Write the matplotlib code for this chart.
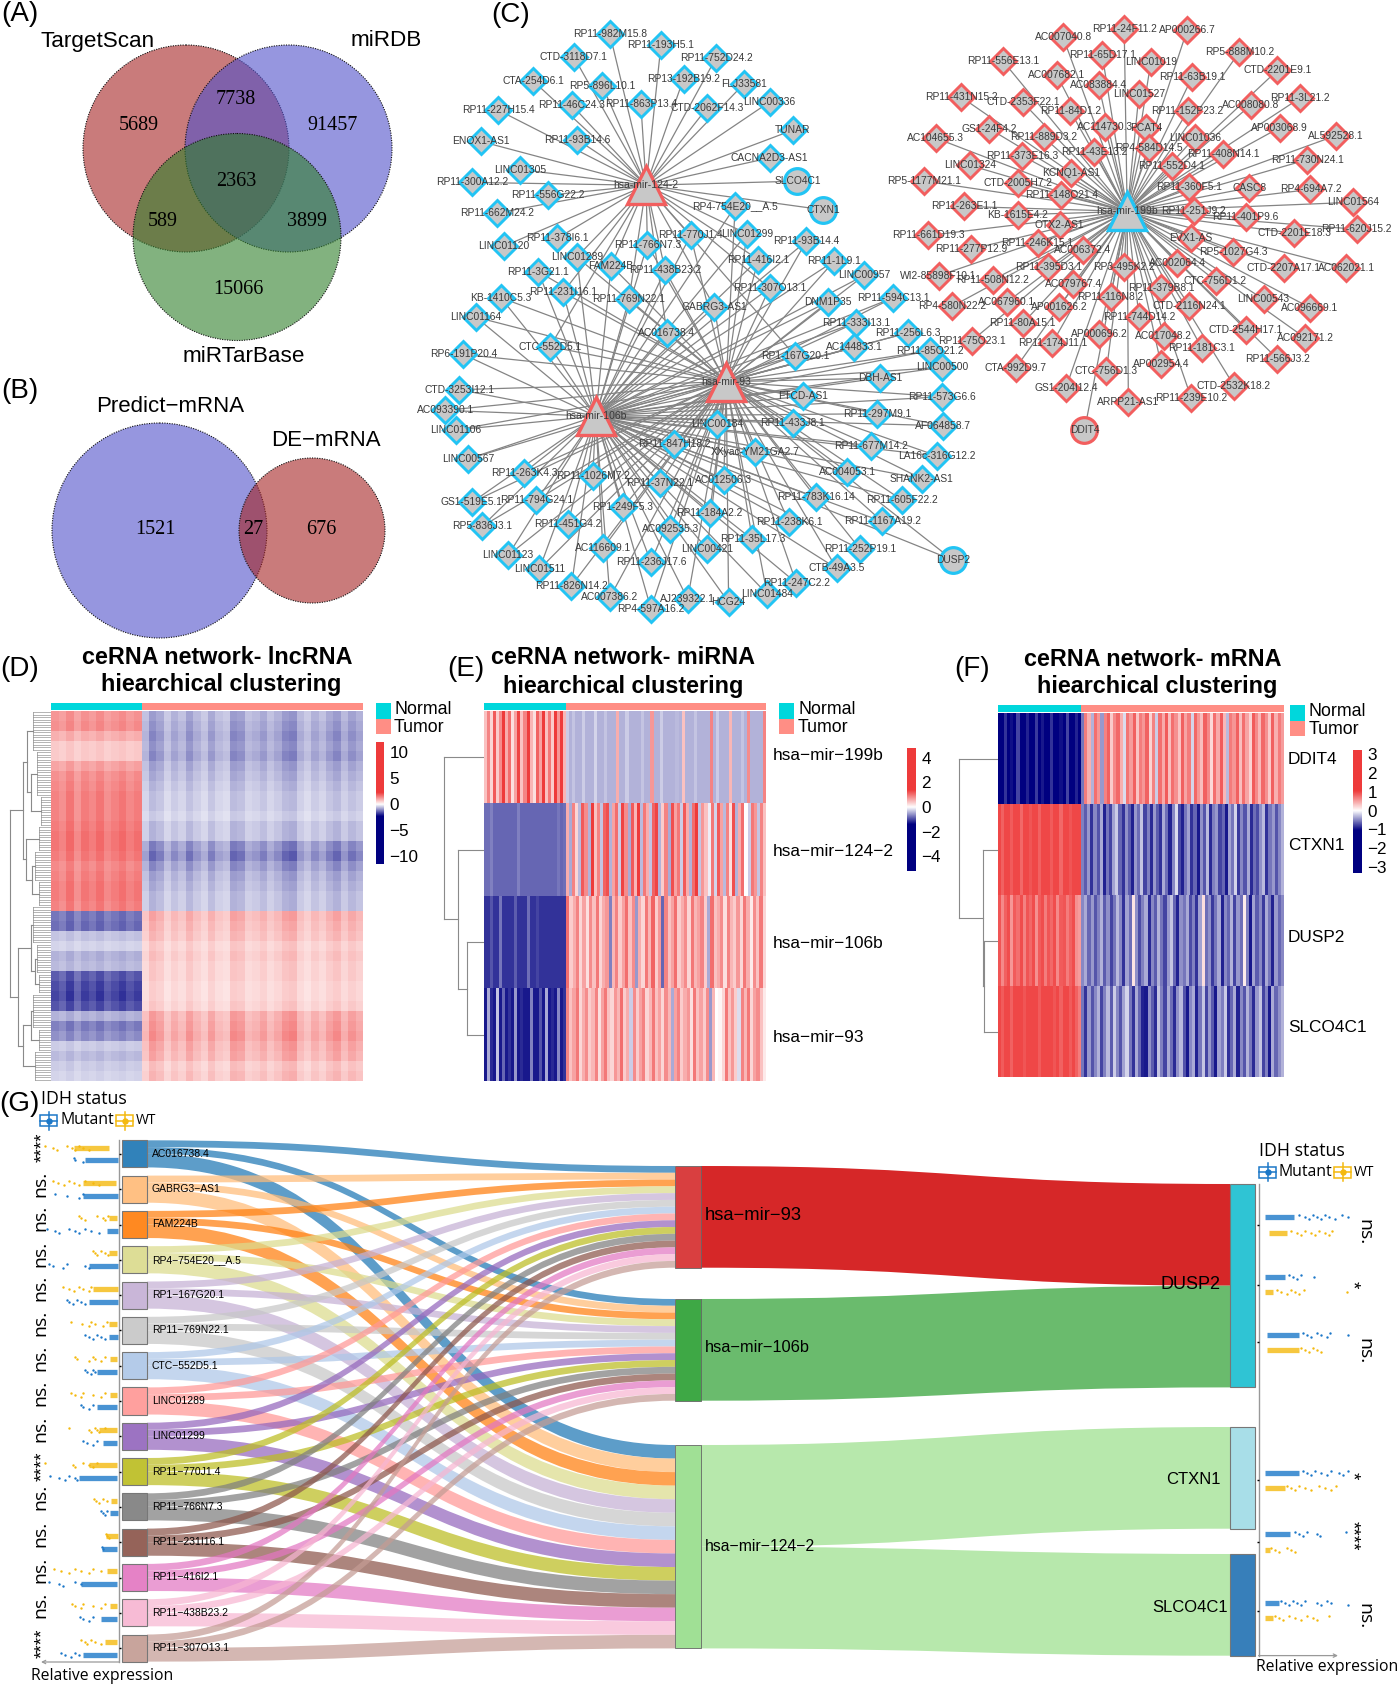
import matplotlib
matplotlib.use("Agg")
import numpy as np
import matplotlib.pyplot as plt
from matplotlib.patches import Ellipse, Rectangle, PathPatch
from matplotlib.path import Path
from matplotlib.colors import LinearSegmentedColormap, Normalize, TwoSlopeNorm, to_rgba

W, H = 1400, 1688
SANS = "Liberation Sans"
SERIF = "Liberation Serif"
HUM = "Open Sans"
plt.rcParams["font.family"] = [SANS, "DejaVu Sans"]

# ---------- Venn values ----------
venn_a_labels = ["5689", "7738", "91457", "2363", "589", "3899", "15066"]
venn_b_labels = ["1521", "27", "676"]
venn_a_sets = ["TargetScan", "miRDB", "miRTarBase"]
venn_b_sets = ["Predict\u2212mRNA", "DE\u2212mRNA"]

# ---------- Network: names and layout ----------
hub_names = ["hsa-mir-124-2", "hsa-mir-93", "hsa-mir-106b", "hsa-mir-199b"]
hub_x = [297, 432, 212, 1108]
hub_y = [447, 921, 1004, 510]

upper_names = ["RP11-982M15.8","RP11-193H5.1","CTD-3118D7.1","RP11-752D24.2","CTA-254D6.1","RP5-896L10.1","RP13-192B19.2","FLJ33581","RP11-46C24.3","RP11-863P13.4","CTD-2062F14.3","LINC00336","RP11-227H15.4","TUNAR","RP11-93B14.6","ENOX1-AS1","CACNA2D3-AS1","LINC01305","RP11-300A12.2","RP11-556G22.2","RP11-662M24.2","LINC01120","RP11-378I6.1","SLCO4C1","CTXN1"]
upper_x = [236,322,175,415,107,223,360,462,172,288,400,505,48,544,181,18,505,85,3,131,45,57,147,552,595]
upper_y = [83,108,137,139,196,207,190,202,254,250,260,246,266,314,337,341,381,409,440,471,514,594,575,437,506]

shared_names = ["RP4-754E20__A.5","RP11-770J1.4","LINC01299","RP11-766N7.3","LINC01289","FAM224B","RP11-438B23.2","RP11-416I2.1","RP11-307O13.1","RP11-231I16.1","RP11-769N22.1","GABRG3-AS1","AC016738.4","CTC-552D5.1","RP1-167G20.1"]
shared_x = [447,372,467,299,180,238,329,486,505,157,268,412,332,135,548]
shared_y = [498,568,564,590,620,641,652,626,695,705,722,740,804,836,858]

lower_names = ["RP11-3G21.1","RP11-93B14.4","RP11-1L9.1","LINC00957","KB-1410C5.3","DNM1P35","RP11-594C13.1","RP11-333I13.1","LINC01164","RP11-256L6.3","AC144833.1","RP11-85O21.2","RP6-191P20.4","LINC00500","DBH-AS1","CTD-3253I12.1","AC093390.1","LINC01106","LINC00567","FTCD-AS1","RP11-573G6.6","RP11-297M9.1","AF064858.7","LINC00184","RP11-433J8.1","RP11-847H18.2","RP11-677M14.2","LA16c-316G12.2","XXyac-YM21GA2.7","AC004053.1","SHANK2-AS1","RP11-263K4.3","RP11-1026M7.2","RP11-37N22.1","AC012506.3","RP11-783K16.14","RP11-605F22.2","GS1-519E5.1","RP11-794G24.1","RP1-249F5.3","RP5-836J3.1","RP11-451G4.2","RP11-184A2.2","RP11-238K6.1","RP11-1167A19.2","AC092535.3","RP11-35L17.3","LINC01123","AC116609.1","LINC00421","RP11-236J17.6","RP11-252P19.1","CTB-49A3.5","LINC01511","RP11-826N14.2","RP11-247C2.2","LINC01484","AC007386.2","AJ239322.1","HCG24","RP4-597A16.2","DUSP2"]
lower_x = [115,567,614,665,52,604,714,651,10,738,648,775,-11,796,692,-18,-42,-24,-3,562,796,686,798,416,544,344,676,788,481,636,762,91,207,320,428,583,728,3,112,258,20,165,404,538,695,338,476,64,224,400,305,658,618,117,171,550,501,236,367,436,305,814]
lower_y = [655,582,630,664,718,728,718,778,765,803,838,846,855,886,912,940,990,1037,1107,956,957,998,1027,1024,1021,1071,1075,1100,1090,1139,1155,1140,1148,1166,1157,1200,1206,1212,1207,1224,1270,1263,1238,1260,1258,1275,1301,1340,1323,1325,1356,1325,1371,1373,1413,1406,1433,1441,1445,1453,1468,1351]

red_names = ["AC007040.8","RP11-24F11.2","AP000266.7","RP5-888M10.2","RP11-556E13.1","RP11-65D17.1","LINC01019","CTD-2201E9.1","AC007682.1","RP11-63B19.1","AC083884.4","LINC01527","RP11-431N15.2","CTD-2353F22.1","RP11-84D1.2","RP11-152P23.2","AC008080.8","RP11-3L21.2","GS1-24F4.2","AC114730.3","PCAT4","AP003068.9","RP11-889D3.2","LINC01036","AL592528.1","AC104655.3","RP4-584D14.5","RP11-43E13.2","RP11-408N14.1","RP11-373E16.3","LINC01324","RP11-552D4.1","RP11-730N24.1","KCNQ1-AS1","RP5-1177M21.1","CTD-2005H7.2","RP11-360F5.1","CASC8","RP4-694A7.2","RP11-148O21.4","LINC01564","RP11-263E1.1","RP11-251J9.2","KB-1615E4.2","RP11-401P9.6","OTX2-AS1","CTD-2201E18.3","RP11-620J15.2","RP11-661D19.3","EVX1-AS","RP11-246K15.1","RP11-277P12.9","AC006372.4","RP5-1027G4.3","AC002064.4","RP11-395D3.1","CTD-2207A17.1","AC062021.1","RP3-495K2.2","WI2-85898F10.1","RP11-508N12.2","AC079767.4","CTC-756D1.2","RP11-379B8.1","LINC00543","RP11-116N8.2","CTD-2116N24.1","AC096669.1","AC067960.1","AP001626.2","RP4-580N22.2","RP11-744D14.2","RP11-80A15.1","CTD-2544H17.1","AC092171.2","RP11-75O23.1","RP11-174J11.1","AP000696.2","AC017048.2","RP11-181C3.1","RP11-566J3.2","CTA-992D9.7","CTC-756D1.3","AP002954.4","GS1-204I12.4","CTD-2532K18.2","ARPP21-AS1","RP11-239E10.2","DDIT4"]
red_x = [1000,1103,1209,1297,899,1066,1148,1361,989,1218,1060,1128,828,932,1012,1210,1316,1400,875,1070,1140,1365,967,1222,1460,785,1145,1052,1270,931,843,1183,1412,1014,766,924,1212,1314,1417,997,1489,833,1220,924,1308,994,1390,1495,773,1216,957,845,1033,1287,1192,975,1372,1477,1103,790,881,1017,1257,1165,1338,1080,1213,1416,905,993,813,1128,932,1308,1408,846,982,1061,1170,1234,1361,920,1073,1165,1005,1288,1110,1216,1036]
red_y = [90,69,73,126,148,133,149,170,180,185,206,226,234,247,268,268,254,236,310,306,308,308,331,332,327,333,357,366,371,376,399,401,385,417,437,442,452,453,457,471,488,498,508,518,524,543,563,553,568,574,587,601,602,609,634,645,647,647,645,665,675,685,677,695,722,717,738,742,729,741,739,765,780,795,815,822,827,805,810,840,865,888,894,878,935,930,970,960,1038]
circle_nodes = ["SLCO4C1", "CTXN1", "DUSP2", "DDIT4"]

# ---------- Heatmap D: band levels by row, stripe strength by column ----------
d_row_normal = [1.6,1.7,1.2,.8,.8,1.4,1.7,1.8,1.9,1.9,1.9,2.0,2.1,2.1,2.0,1.8,1.9,2.0,2.0,1.9,-1.6,-1.7,-.7,-.5,-.9,-.8,-1.9,-2.1,-2.2,-2.0,-.9,-1.5,-1.3,-.6,-.8,-.6,-.5]
d_row_tumor = [-.9,-1.0,-1.1,-1.0,-1.1,-.9,-.8,-.7,-.6,-.6,-.5,-.7,-.7,-1.2,-1.4,-1.1,-.9,-.8,-.7,-.7,1.1,1.0,.9,.7,.8,.7,.7,.6,.6,.7,1.2,1.3,1.4,1.2,1.1,.8,.9]
d_col_normal = [1.0,.9,1.1,.85,1.05,.95,1.1,.9,1.0,1.1,.95,1.05]
d_col_tumor = [.8,1.3,1.1,.7,1.0,.8,1.2,.9,.7,1.1,.8,.7,1.3,1.2,.8,.9,1.1,.8,1.0,1.3,1.4,.9,.7,1.0,.8,1.1,1.3,.9,1.2,1.0]

# ---------- Heatmap E: stripes read per row ----------
e_199b = [.6,1.2,.4,1.6,.5,1.1,2.0,.8,1.4,.3,.9,1.8,.6,1.2,2.1,.7,.3,1.5,.9,2.2,.6,1.3,.5,1.9,1.0,2.3,.7,
 -.6,-.9,-.7,-.9,-.9,-.6,-.9,-.9,-.9,-.5,-.9,-.9,-.7,-.9,-.9,-.9,.8,-.9,-.9,-.6,-.9,-.9,-.9,-.9,-.7,-.9,-.9,1.0,-.9,-.9,-.6,-.9,-.9,-.9,-.9,-.8,-.9,.6,-.9,-.9,-.9,-.7,-.9,-.9,-.9,-.9,1.2,-.9,-.6,-.9,-.9,-.9,.7,-.9,-.9,-.9,-.7,-.9,1.1,-.9,-.9,-.9,-.9,1.2]
e_124 = [-1.7,-1.7,-1.5,-1.8,-1.8,-1.8,-1.8,-1.8,-1.8,-1.8,-1.8,-1.5,-1.8,-1.8,-1.8,-1.8,-1.8,-1.8,-1.8,-1.8,-1.8,-1.8,-1.8,-1.8,-1.6,-1.8,-1.7,
 .8,-1.0,1.2,.4,-.8,1.6,1.1,-.9,1.9,.6,1.2,-.7,1.5,1.7,-.9,.9,1.4,-.6,1.8,1.1,-1.0,1.6,.7,1.9,-.8,1.3,.8,-.7,1.5,1.8,-.9,.5,1.2,-1.0,1.7,.9,1.3,-.6,1.6,.8,-.9,1.4,1.9,-.7,1.0,.6,-.2,1.3,-.5,1.6,.9,-.8,1.2,.3,1.7,-.9,.8,1.4,0,-.6,1.3,1.0,-.7,1.2,.6]
e_106b = [-2.4,-2.4,-2.0,-2.4,-2.4,-1.6,-2.4,-2.4,-2.4,-2.4,-1.9,-2.4,-2.4,-2.4,-1.7,-2.4,-2.4,-2.2,-2.4,-2.4,-2.4,-2.4,-2.4,-2.4,-2.4,-2.4,-2.4,
 1.4,.5,.8,1.2,.4,.9,.3,1.1,.6,1.3,.4,.8,1.0,-1.5,.7,1.2,.5,.9,1.4,.6,1.1,-1.2,.8,.4,1.3,.7,1.5,.5,1.0,-1.8,1.2,.6,.9,1.4,.5,.8,1.1,.4,1.3,.7,.9,1.2,.5,-1.0,1.4,.6,.8,1.1,.3,1.2,.7,.5,1.0,.4,1.3,.8,.2,1.1,.6,1.3,.4]
e_93 = [-2.7,-1.0,-2.5,-2.7,-.7,-2.7,-1.8,-2.7,-2.4,-2.7,-1.2,-2.7,-2.5,-2.7,-2.7,-1.5,-2.7,-2.7,-2.0,-2.7,-1.0,-2.7,-2.5,-2.7,-1.4,-2.7,-2.4,
 1.2,.6,.9,1.3,.4,.8,1.1,.5,.7,1.2,.3,.9,1.3,.6,.4,1.0,.7,1.4,.5,.8,-.6,1.1,.5,.9,1.2,.4,.7,1.3,.6,.9,.4,1.1,.7,-1.0,.9,1.2,.5,.8,1.0,.3,1.3,.6,.9,.5,1.1,-1.2,.7,0,.1,.4,1.3,.6,1.0,.5,-.4,1.2,.7,1.3,.4,.9,1.1,.6,.2]

# ---------- Heatmap F: stripes read per row ----------
f_ddit4 = [-3,-3,-2.4,-3,-2.8,-3,-2.2,-3,-3,-2.6,-3,-3,-2.3,-3,-2.7,-3,-3,-2.4,-3,-3,-2.8,-3,-2.2,-3,-3,-2.6,-3,
 -1.6,2.0,1.2,-.9,2.2,1.6,-1.2,1.9,2.4,.8,1.8,2.3,1.2,-.4,2.1,1.5,2.4,.9,2.0,1.6,2.4,.7,1.9,-.6,2.2,1.3,2.5,1.0,2.2,1.7,.9,2.4,1.4,2.0,-.5,2.3,1.6,1.0,2.4,1.8,.6,2.2,1.3,2.5,1.1,-.8,2.0,1.6,2.4,1.0,2.2,1.4,.7,2.5,1.8,1.1,2.3,1.7,.8,2.4,1.2,2.0,1.5]
f_ctxn1 = [2.8,2.4,2.8,2.8,2.5,2.8,2.8,2.3,2.8,2.8,2.6,2.8,2.8,2.4,2.8,2.8,2.8,2.5,2.8,2.8,2.3,2.8,2.8,2.6,2.8,2.8,2.8,
 -1.5,-1.9,-1.2,-2.4,-1.4,-2.0,-1.0,-2.6,-1.6,-2.2,-1.1,-.6,-1.8,-2.4,-1.3,-1.9,-2.6,-1.2,-1.7,-.7,-2.2,-1.5,-2.5,-1.2,-1.9,-2.4,-1.0,-1.7,-2.6,-1.4,-.4,-2.1,-2.6,-1.6,-1.1,-2.4,-1.8,-2.7,-1.3,-2.0,-.8,-2.5,-1.5,-1.2,-2.2,-1.8,-2.7,-1.1,-1.6,-.5,-2.3,-1.4,-2.0,-1.0,-2.5,-1.7,-2.1,-1.3,-.8,-2.4,-1.6,-1.2,-2.0,-1.4,-.9]
f_dusp2 = [2.6,1.8,2.4,2.7,1.6,2.5,2.2,2.7,1.9,2.6,2.3,2.7,1.7,2.5,2.7,2.0,2.6,2.3,2.7,1.8,2.5,2.6,2.0,2.4,2.7,1.7,1.5,
 -1.4,-1.0,-1.8,-1.2,-2.0,-1.5,-.9,-1.9,-1.3,-2.2,-1.6,-.8,-1.4,-2.4,-1.1,-1.7,.4,-1.3,-2.1,-1.5,-1.0,-2.5,-1.4,-1.9,-.9,-1.6,-2.2,-1.2,-.7,-1.8,-2.6,-1.3,-1.6,-1.0,-2.1,-1.5,-2.4,-1.1,.5,-1.7,-1.3,-2.3,-1.6,-1.0,-2.6,-1.4,-1.8,-.9,-2.2,-1.2,-1.7,.3,-1.5,-2.7,-1.1,-1.9,-1.4,-2.3,-1.0,-1.6,-2.6,-1.2,-1.8,-1.4]
f_slco = [2.8,2.5,2.8,2.8,2.4,2.8,2.8,2.8,2.6,2.8,2.8,2.8,2.8,2.5,2.8,2.8,2.8,2.8,2.6,2.8,2.4,2.8,2.8,2.5,2.8,2.4,2.0,
 -1.6,-2.4,-1.2,-2.0,-1.4,-.9,-2.2,-1.5,-.8,-1.9,-.6,-1.4,-2.0,-1.1,-.5,-1.6,-2.4,-1.0,-1.8,-2.6,-2.7,-1.3,-1.9,-2.5,-.7,-1.5,-2.2,-1.0,-1.7,-2.5,-1.3,-.8,-2.0,-2.7,-1.4,-1.0,-2.6,-1.6,-.7,-2.2,-1.2,-1.9,-2.7,-1.1,-1.5,-.6,-2.4,-1.8,-1.0,-2.6,-1.4,-2.0,-.9,-1.6,-2.5,-1.2,-.7,-2.2,-1.5,-2.7,-1.0,-1.8,-1.3,-.9]

e_row_labels = ["hsa\u2212mir\u2212199b", "hsa\u2212mir\u2212124\u22122", "hsa\u2212mir\u2212106b", "hsa\u2212mir\u221293"]
f_row_labels = ["DDIT4", "CTXN1", "DUSP2", "SLCO4C1"]

# ---------- Sankey ----------
lnc_names = ["AC016738.4","GABRG3\u2212AS1","FAM224B","RP4\u2212754E20__A.5","RP1\u2212167G20.1","RP11\u2212769N22.1","CTC\u2212552D5.1","LINC01289","LINC01299","RP11\u2212770J1.4","RP11\u2212766N7.3","RP11\u2212231I16.1","RP11\u2212416I2.1","RP11\u2212438B23.2","RP11\u2212307O13.1"]
lnc_to_93 = [1,1,1,1,1,1,1,1,1,1,1,1,1,1,1]
lnc_to_106 = [1,1,1,1,1,1,1,1,1,1,1,1,1,1,1]
lnc_to_124 = [2,2,2,2,2,2,2,2,2,2,2,2,2,2,2]
lnc_colors = ["#1f77b4","#ffbb78","#ff7f0e","#dbdb8d","#c5b0d5","#c7c7c7","#aec7e8","#ff9896","#9467bd","#bcbd22","#7f7f7f","#8c564b","#e377c2","#f7b6d2","#c49c94"]
mir_labels = ["hsa\u2212mir\u221293","hsa\u2212mir\u2212106b","hsa\u2212mir\u2212124\u22122"]
mir_flow_colors = ["#D62728","#6ABB6D","#B7E8AC"]
mir_node_colors = ["#D93F40","#3EA845","#A0E095"]
mrna_labels = ["DUSP2","CTXN1","SLCO4C1"]
mrna_colors = ["#2FC4D4","#A8DEE8","#377FBA"]
mir_to_dusp2 = [15, 15]
mir124_to_ctxn1 = 15
mir124_to_slco = 15

# ---------- Strip plots: relative expression ----------
left_sig = ["****","ns.","ns.","ns.","ns.","ns.","ns.","ns.","ns.","****","ns.","ns.","ns.","ns.","****"]
left_wt_dense = [(10,45),(3,36),(2,10),(2,10),(1,26),(2,10),(2,9),(2,9),(2,20),(2,30),(2,8),(1,13),(2,12),(2,9),(2,14)]
left_mut_dense = [(1,34),(1,36),(1,12),(1,30),(1,30),(1,10),(2,22),(2,22),(2,16),(2,40),(1,9),(2,17),(2,38),(2,18),(2,36)]
left_wt_pts = [[74,66,62,52,47,44,40,36,30],[66,61,55,50,45,40,34,26,20],[40,38,34,22,16,14,11],[26,24,22,18,14,11],[56,50,45,40,36,30,28],[48,37,30,28,24,16,12],[44,42,30,26,24,18,14],[48,44,38,36,26,18,14],[50,30,28,24,22,20,14],[74,46,44,36,30,26,22],[25,23,20,16,12],[13,12,10],[65,58,50,44,38,30,26,18],[47,44,38,36,26,18,14],[38,34,32,28,24,18]]
left_mut_pts = [[45,44,36],[64,52,40,36],[72,64,60,50,44,40,34,28,20],[70,66,56,52,34,30],[52,50,46,42,38,34],[34,30,26,22,18,14],[34,32,28,26,24],[38,36,30,26],[36,32,26,22],[69,60,54,50,44,42],[18,16,14,12],[17,16],[70,60,56,44,38],[39,36,30,26],[58,54,48,44,40]]
right_sig = ["ns.","*","ns.","*","****","ns."]
right_mut_dense = [(6,35),(6,26),(8,40),(6,40),(6,31),(6,20)]
right_wt_dense = [(10,28),(6,14),(8,40),(6,26),(6,11),(6,14)]
right_mut_pts = [[40,46,50,54,58,62,66,70,76,83,89],[30,34,38,42,55],[44,48,52,58,62,68,71,89],[44,48,52,56,62,68,72,80,84,89],[36,40,44,48,58,61,87],[22,26,30,34,38,42,46,58,62,68,72,89]]
right_wt_pts = [[32,38,42,46,52,56,60,66,70,73],[18,22,28,32,36,40,45,88],[42,46,50,54,58,62],[28,32,36,40,46,52,60,66,72,77],[12,16,20,28,32,36],[16,20,24,30,36,42,48,54,58,70]]

# ---------- helpers ----------
fig = plt.figure(figsize=(W/100, H/100), dpi=100, facecolor="white")

def pxax(x0, y0, x1, y1):
    a = fig.add_axes([x0/W, 1-y1/H, (x1-x0)/W, (y1-y0)/H])
    a.patch.set_alpha(0)
    return a

ov = pxax(0, 0, W, H)
ov.set_xlim(0, W); ov.set_ylim(H, 0); ov.axis("off")

def label(x, y, s, size=15, ha="center", va="center", family=SANS, **kw):
    ov.text(x, y, s, fontsize=size, ha=ha, va=va, family=[family, "DejaVu Sans"], **kw)

for s, x, y in [("(A)",20,14),("(B)",20,391),("(C)",511,15),("(D)",20,669),("(E)",466,669),("(F)",972,669),("(G)",19,1104)]:
    label(x, y, s, size=20)

# ---------- Venns ----------
def venn(cx, cy, rx, ry, color):
    ov.add_patch(Ellipse((cx, cy), 2*rx, 2*ry, facecolor=to_rgba(color, .6), edgecolor="none"))
    ov.add_patch(Ellipse((cx, cy), 2*rx, 2*ry, facecolor="none", edgecolor="#111111", lw=.8, ls=(0,(1,1.2))))

RED, BLUE, GREEN = (165/255,35/255,35/255), (80/255,80/255,203/255), (47/255,127/255,42/255)
venn(186, 148.5, 103, 103.5, RED)
venn(288.5, 148.5, 103.5, 103.5, BLUE)
venn(237, 237, 104, 103.5, GREEN)
venn(159.5, 530.5, 107.5, 107.5, BLUE)
venn(312, 530.5, 73, 72.5, RED)
for s, p in zip(venn_a_labels, [(139,126),(236,99),(333,126),(236,181),(163,222),(307,222),(238,290)]):
    label(p[0], p[1], s, size=14.5, family=SERIF)
for s, p in zip(venn_b_labels, [(155,530),(253,530),(321,530)]):
    label(p[0], p[1], s, size=14.5, family=SERIF)
for s, p in zip(venn_a_sets, [(98,41),(386,41),(244,357)]):
    label(p[0], p[1], s, size=16.2)
for s, p in zip(venn_b_sets, [(170,407),(326,440)]):
    label(p[0], p[1], s, size=16)

# ---------- Network ----------
net = pxax(420, 0, 1400, 650)
sx = 1568/930
net.set_xlim((420-470)*sx, (1400-470)*sx); net.set_ylim(1568, 0); net.axis("off")
EDGE = "#848484"
def edges(xs, ys, hubs, zo=1):
    for h in hubs:
        for x, y in zip(xs, ys):
            net.plot([hub_x[h], x], [hub_y[h], y], color=EDGE, lw=.9, zorder=zo, solid_capstyle="round")

def nodes(names, xs, ys, col):
    for n, x, y in zip(names, xs, ys):
        if n in circle_nodes:
            net.plot(x, y, "o", ms=18.5, mfc="#C8C8C8", mec=col, mew=2.3, zorder=3)
        else:
            net.plot(x, y, "D", ms=13, mfc="#C8C8C8", mec=col, mew=2.1, zorder=3)
    for n, x, y in zip(names, xs, ys):
        net.text(x, y, n, fontsize=7.4, color="#3a3a3a", ha="center", va="center", zorder=5, clip_on=False)

CY, RD = "#22C4F4", "#F25E5E"
edges(upper_x, upper_y, [0]); edges(shared_x, shared_y, [0,1,2]); edges(lower_x, lower_y, [1,2]); edges(red_x, red_y, [3])
nodes(upper_names, upper_x, upper_y, CY); nodes(shared_names, shared_x, shared_y, CY)
nodes(lower_names, lower_x, lower_y, CY); nodes(red_names, red_x, red_y, RD)
for i, n in enumerate(hub_names):
    c = CY if i == 3 else RD
    net.plot(hub_x[i], hub_y[i], "^", ms=28, mfc="#C8C8C8", mec=c, mew=2.4, zorder=4)
    net.text(hub_x[i], hub_y[i], n, fontsize=7.5, color="#3a3a3a", ha="center", va="center", zorder=6)

# ---------- Heatmaps ----------
cmap = LinearSegmentedColormap.from_list("nwr", ["#000080", "#FFFFFF", "#EE3B3B"])
znorm = Normalize(-3, 3)
e_norm = TwoSlopeNorm(vmin=-3, vcenter=0, vmax=1.9)

def heat(box, rows, nnorm, split, norm=znorm):
    """Each row is drawn with its own columns: nnorm normal samples, the rest tumor."""
    x0, y0, x1, y1 = box
    a = pxax(x0, y0, x1, y1)
    ye = np.linspace(y0, y1, len(rows)+1)
    for r, row in enumerate(rows):
        nt = len(row) - nnorm
        xe = np.r_[np.linspace(x0, split, nnorm+1), np.linspace(split, x1, nt+1)[1:]]
        a.pcolormesh(xe, ye[r:r+2], np.asarray(row, float)[None, :], cmap=cmap, norm=norm,
                     shading="flat", edgecolors="none", rasterized=True)
    a.set_xlim(x0, x1); a.set_ylim(y1, y0); a.axis("off")
    return a

def annot(y0, y1, x0, xs, x1):
    ov.add_patch(Rectangle((x0, y0), xs-x0, y1-y0, color="#00D7DC", lw=0))
    ov.add_patch(Rectangle((xs, y0), x1-xs, y1-y0, color="#FF8E85", lw=0))

def legend(x0, x1, y0, ym, y1, tx):
    ov.add_patch(Rectangle((x0, y0), x1-x0, ym-y0, color="#00D7DC", lw=0))
    ov.add_patch(Rectangle((x0, ym), x1-x0, y1-ym, color="#FF8E85", lw=0))
    label(tx, y0+6.5, "Normal", size=12.8, ha="left")
    label(tx, ym+9, "Tumor", size=12.8, ha="left")

def colorbar(x0, y0, x1, y1, vmin, vmax, sat, ticks, lab):
    a = pxax(x0, y0, x1, y1)
    grad = np.linspace(vmax, vmin, 256)[:, None]
    a.imshow(grad, aspect="auto", cmap=cmap, norm=Normalize(-sat, sat), extent=[0, 1, vmin, vmax])
    a.set_xticks([]); a.yaxis.tick_right()
    a.set_yticks(ticks); a.set_yticklabels(lab, fontsize=12.3)
    a.tick_params(axis="y", length=0, pad=4)
    for s in a.spines.values():
        s.set_visible(False)

def tree_draw(node, ybase, xbase, ctr):
    """Draws a tree given as (height, child, child, ...) or ('c', leaves, height)."""
    if node[0] == "c":
        n, h = node[1], node[2]
        ys = [ybase + (ctr[0] + i + .5)*ctr[1] for i in range(n)]
        ctr[0] += n
        ov.plot([xbase-h, xbase-h], [ys[0], ys[-1]], color="#8a8a8a", lw=.5)
        for y in ys:
            ov.plot([xbase-h, xbase], [y, y], color="#8a8a8a", lw=.45)
        return xbase-h, (ys[0]+ys[-1])/2
    h = node[0]
    kids = [tree_draw(k, ybase, xbase, ctr) for k in node[1:]]
    x = xbase-h
    ov.plot([x, x], [kids[0][1], kids[-1][1]], color="#8a8a8a", lw=.8)
    for kx, ky in kids:
        ov.plot([x, kx], [ky, ky], color="#8a8a8a", lw=.8)
    return x, (kids[0][1]+kids[-1][1])/2

# D
d_mat = []
for rn, rt in zip(d_row_normal, d_row_tumor):
    d_mat.append([rn*c for c in d_col_normal] + [rt*c for c in d_col_tumor])
heat((51, 711, 363, 1081), d_mat, len(d_col_normal), 141.5)
annot(703, 709.5, 51, 141.5, 363)
legend(375.5, 391, 703, 719, 734, 394)
colorbar(376, 742, 384, 864, -11.5, 12, 2.3, [10,5,0,-5,-10], ["10","5","0","\u22125","\u221210"])
label(217, 657, "ceRNA network- lncRNA", size=16.8, fontweight="bold")
label(221, 685, "hiearchical clustering", size=16.8, fontweight="bold")
d_tree = (41,
  (28, (24, ("c",16,18), (20, ("c",18,14), ("c",12,10))), (25, ("c",10,12), (19, ("c",12,16), ("c",10,12)))),
  (33, (20, ("c",15,18), (16, ("c",12,14), ("c",8,12))), (28, (20, ("c",14,18), ("c",9,12)), ("c",12,16))))
tree_draw(d_tree, 711, 51, [0, 2.5])

# E
heat((484, 711, 766, 1081), [e_199b, e_124, e_106b, e_93], 27, 566, norm=e_norm)
annot(703, 709.5, 484, 566, 766)
legend(779, 794, 703, 719, 734, 798)
colorbar(907, 748, 916, 871, -5.2, 4.8, 1.4, [4,2,0,-2,-4], ["4","2","0","\u22122","\u22124"])
label(623, 657, "ceRNA network- miRNA", size=16.8, fontweight="bold")
label(623, 686, "hiearchical clustering", size=16.8, fontweight="bold")
for s, y in zip(e_row_labels, [756, 852, 943, 1037]):
    label(773, y, s, size=12.4, ha="left")
tree_draw((40, ("c",1,0), (26, ("c",1,0), (17.5, ("c",1,0), ("c",1,0)))), 711, 484, [0, 92.5])

# F
heat((998, 713, 1284, 1077), [f_ddit4, f_ctxn1, f_dusp2, f_slco], 27, 1081)
annot(705, 712, 998, 1081, 1284)
legend(1290, 1305, 705, 721, 736, 1309)
colorbar(1353, 750, 1362, 873, -3.3, 3.2, 1.05, [3,2,1,0,-1,-2,-3], ["3","2","1","0","\u22121","\u22122","\u22123"])
label(1153, 660, "ceRNA network- mRNA", size=16.8, fontweight="bold")
label(1157, 687, "hiearchical clustering", size=16.8, fontweight="bold")
for s, y in zip(f_row_labels, [759, 846, 938, 1027]):
    label(1288, y, s, size=12.4, ha="left")
tree_draw((39.5, ("c",1,0), (15, ("c",1,0), (13.6, ("c",1,0), ("c",1,0)))), 713, 998, [0, 91])

# ---------- Sankey ----------
UNIT = 6.78
def band(x0, y0a, y0b, x1, y1a, y1b, color, alpha=1.0, zo=1):
    xm = (x0+x1)/2
    verts = [(x0,y0a),(xm,y0a),(xm,y1a),(x1,y1a),(x1,y1b),(xm,y1b),(xm,y0b),(x0,y0b),(x0,y0a)]
    codes = [Path.MOVETO,Path.CURVE4,Path.CURVE4,Path.CURVE4,Path.LINETO,Path.CURVE4,Path.CURVE4,Path.CURVE4,Path.CLOSEPOLY]
    ov.add_patch(PathPatch(Path(verts, codes), facecolor=to_rgba(color, alpha), edgecolor="none", zorder=zo))

LX0, LX1, MX0, MX1, RX0, RX1 = 122, 147, 675, 701, 1230, 1255
mid_top = [1166, 1299, 1445]
mid_cur = list(mid_top)
for i in range(len(lnc_names)):
    y = 1140.3 + 35.3*i
    top = y
    for k, v in enumerate((lnc_to_93[i], lnc_to_106[i], lnc_to_124[i])):
        h = v*UNIT
        band(LX1, y, y+h, MX0, mid_cur[k], mid_cur[k]+h, lnc_colors[i], .72, zo=1)
        y += h
        mid_cur[k] += h
    ov.add_patch(Rectangle((LX0, top), LX1-LX0, y-top, facecolor=to_rgba(lnc_colors[i], .92), edgecolor="#777777", lw=.8, zorder=3))
    label(152, top+(y-top)/2, lnc_names[i], size=7.5, ha="left", zorder=6)

for k in range(3):
    h = (mid_cur[k]-mid_top[k])
    ov.add_patch(Rectangle((MX0, mid_top[k]), MX1-MX0, h, facecolor=mir_node_colors[k], edgecolor="#666666", lw=.6, zorder=3))

R_TOP = [1184, 1427, 1554]
h93 = mir_to_dusp2[0]*UNIT; h106 = mir_to_dusp2[1]*UNIT
band(MX1, mid_top[0], mid_top[0]+h93, RX0, R_TOP[0], R_TOP[0]+h93, mir_flow_colors[0])
band(MX1, mid_top[1], mid_top[1]+h106, RX0, R_TOP[0]+h93, R_TOP[0]+h93+h106, mir_flow_colors[1])
hc = mir124_to_ctxn1*UNIT; hs = mir124_to_slco*UNIT
band(MX1, mid_top[2], mid_top[2]+hc, RX0, R_TOP[1], R_TOP[1]+hc, mir_flow_colors[2])
band(MX1, mid_top[2]+hc, mid_top[2]+hc+hs, RX0, R_TOP[2], R_TOP[2]+hs, mir_flow_colors[2])
for k, h in enumerate([h93+h106, hc, hs]):
    ov.add_patch(Rectangle((RX0, R_TOP[k]), RX1-RX0, h, facecolor=mrna_colors[k], edgecolor="#777777", lw=.8, zorder=3))
for s, y, fs in zip(mir_labels, [1216, 1347, 1546.5], [13.2, 11.8, 11.3]):
    label(705, y, s, size=fs, ha="left", zorder=6)
for s, x, y, fs in zip(mrna_labels, [1220, 1221, 1228], [1284.5, 1479, 1608], [13, 12, 12]):
    label(x, y, s, size=fs, ha="right", zorder=6)

# ---------- Strip plots ----------
MUT, WTC = "#1C78C8", "#F4B90F"
def strips(box, xlim, centers, mut_d, wt_d, mut_p, wt_p, wt_first, off=6.4):
    a = pxax(*box)
    a.set_xlim(*xlim); a.set_ylim(box[3], box[1])
    for i, c in enumerate(centers):
        wy = c - off if wt_first else c + off
        my = c + off if wt_first else c - off
        for d, p, y, col in ((mut_d[i], mut_p[i], my, MUT), (wt_d[i], wt_p[i], wy, WTC)):
            a.plot(d, [y, y], color=col, lw=3.8, alpha=.8, solid_capstyle="butt", clip_on=False)
            a.scatter(p, [y + ((j % 3) - 1)*2 for j in range(len(p))], s=3, color=col, lw=0, clip_on=False)
    a.set_xticks([]); a.set_yticks(centers); a.set_yticklabels([])
    a.tick_params(axis="y", length=1.5, width=1, color="black")
    for s in a.spines.values():
        s.set_visible(False)
    return a

lc = [1140.3 + 35.3*i + 13.6 for i in range(15)]
la = strips((41, 1140, 119, 1662), (78, 0), lc, left_mut_dense, left_wt_dense, left_mut_pts, left_wt_pts, True)
la.yaxis.tick_right()
rc = [1090 + v/2.622 for v in (354, 510, 662, 1023, 1185, 1365)]
strips((1258.5, 1184, 1338, 1655.6), (0, 79.5), rc, right_mut_dense, right_wt_dense, right_mut_pts, right_wt_pts, False, off=7.6)

ov.plot([119, 119], [1140, 1662], color="#999999", lw=1)
ov.annotate("", xy=(41, 1662), xytext=(119, 1662), arrowprops=dict(arrowstyle="->", color="#999999", lw=.9, shrinkA=0, shrinkB=0, mutation_scale=6))
ov.plot([1258.5, 1258.5], [1184, 1655.6], color="#999999", lw=1)
ov.annotate("", xy=(1338, 1655.6), xytext=(1258.5, 1655.6), arrowprops=dict(arrowstyle="->", color="#999999", lw=.9, shrinkA=0, shrinkB=0, mutation_scale=6))

label(102, 1676.5, "Relative expression", size=11.3, family=HUM)
label(1327, 1667, "Relative expression", size=11.3, family=HUM)

for s, y in zip(left_sig, [1147,1184,1218,1254,1288,1323,1358,1393,1429,1466,1497,1534,1570,1605,1643]):
    if s == "ns.":
        label(40, y, s, size=14, rotation=90, family=HUM)
    else:
        label(43, y, s, size=13.5, rotation=90)
for s, y in zip(right_sig, [1232, 1284.5, 1351, 1476, 1536, 1616]):
    if s == "ns.":
        label(1364, y, s, size=14, rotation=-90, family=HUM)
    else:
        label(1352, y, s, size=13.5, rotation=-90)

def idh(x, y_title, y_sym, xs):
    label(x, y_title, "IDH status", size=12.8, ha="left", family=HUM)
    for sx0, col in ((xs[0], MUT), (xs[1], WTC)):
        ov.add_patch(Rectangle((sx0, y_sym-5.5), 17, 11, facecolor="none", edgecolor=col, lw=1.1))
        ov.plot([sx0+8.5, sx0+8.5], [y_sym-9, y_sym+9], color=col, lw=1.1)
        ov.plot([sx0, sx0+17], [y_sym, y_sym], color=col, lw=1.1)
        ov.plot(sx0+8.5, y_sym, "o", ms=3.6, color=col)
    label(xs[0]+20, y_sym, "Mutant", size=11.4, ha="left", family=HUM)
    label(xs[1]+20, y_sym, "WT", size=10, ha="left", family=HUM)

idh(41, 1099.5, 1120.5, (40, 116))
idh(1259, 1151, 1172, (1259, 1334))

fig.savefig("out.png", dpi=100, facecolor="white")
